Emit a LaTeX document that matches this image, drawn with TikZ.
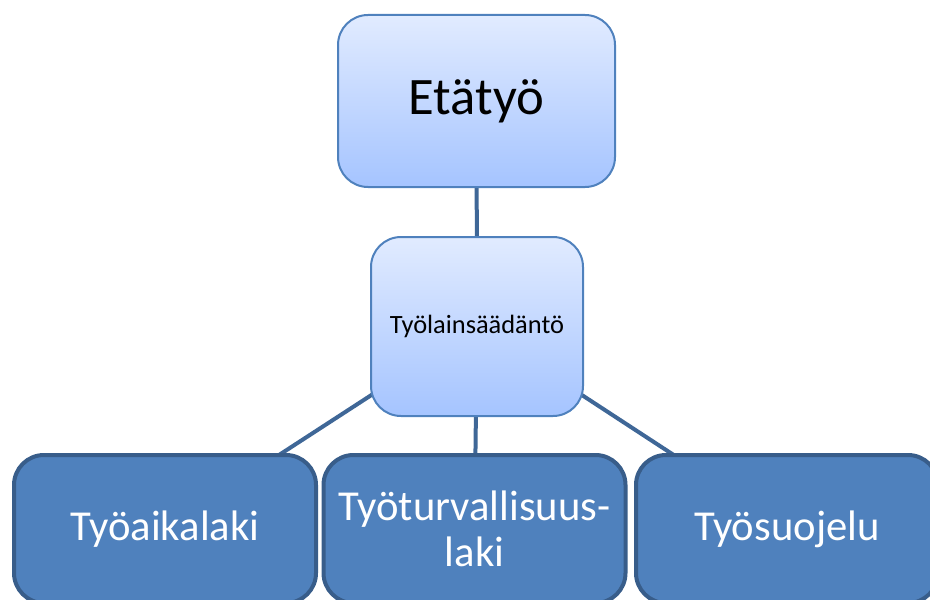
\documentclass[tikz,border=0pt]{standalone}
\usepackage{fontspec}
\setmainfont{Carlito}
\usetikzlibrary{backgrounds}
\definecolor{lawline}{RGB}{63,103,151}
\definecolor{lightedge}{RGB}{79,129,189}
\definecolor{lighttop}{RGB}{225,235,255}
\definecolor{lightbot}{RGB}{165,196,255}
\definecolor{lawfill}{RGB}{79,129,189}
\definecolor{lawedge}{RGB}{56,93,138}
\begin{document}
\begin{tikzpicture}[x=0.75pt,y=-0.75pt,
  topbox/.style={draw=lightedge,line width=1.5pt,rounded corners=22.5pt,
    top color=lighttop,bottom color=lightbot,text=black},
  lawbox/.style={draw=lawedge,line width=3pt,rounded corners=22.5pt,
    fill=lawfill,text=white,minimum width=226.5pt,minimum height=111pt,
    font=\fontsize{32}{34}\selectfont,align=center},
  link/.style={draw=lawline,line width=3pt}]
\useasboundingbox (0,0) rectangle (930,599);
\node[topbox,minimum width=207.75pt,minimum height=129pt,
  font=\fontsize{39.5}{44}\selectfont] (remote) at (476.5,101) {Etätyö};
\node[topbox,minimum width=159pt,minimum height=134.25pt,
  font=\fontsize{19.8}{24}\selectfont] (legis) at (477,326.5) {Työlainsäädäntö};
\node[lawbox] (hours) at (165,529) {Työaikalaki};
\node[lawbox] (safety) at (474.5,529) {Työturvallisuus-\\laki};
\node[lawbox] (protect) at (787,529) {Työsuojelu};
\begin{scope}[on background layer]
\draw[link] (remote.center) -- (legis.center);
\draw[link] (legis.center) -- (hours.center);
\draw[link] (legis.center) -- (safety.center);
\draw[link] (legis.center) -- (protect.center);
\end{scope}
\end{tikzpicture}
\end{document}
